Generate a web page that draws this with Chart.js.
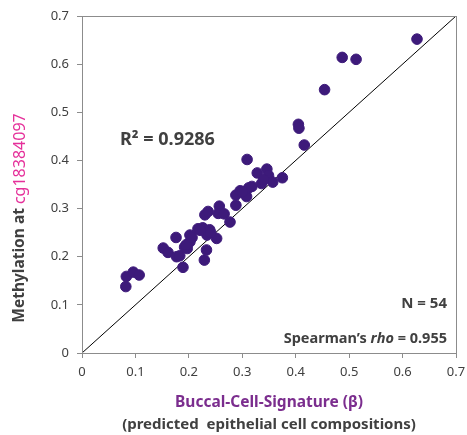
<!DOCTYPE html>
<html>
<head>
<meta charset="utf-8">
<script src="https://cdn.jsdelivr.net/npm/chart.js"></script>
<style>
  html, body { margin: 0; padding: 0; background: #fff; }
  #wrap { width: 467px; height: 435px; }
</style>
</head>
<body>
<div id="wrap"><canvas id="myChart" width="467" height="435"></canvas></div>
<script>
    // Buccal-Cell-Signature (predicted epithelial cell composition), one per sample
    const signature = [
        0.082, 0.083, 0.096, 0.107, 0.152, 0.161, 0.176, 0.177, 0.183, 0.189,
        0.192, 0.197, 0.202, 0.202, 0.217, 0.226, 0.229, 0.233, 0.230, 0.236,
        0.234, 0.239, 0.252, 0.257, 0.255, 0.266, 0.277, 0.288, 0.288, 0.296,
        0.305, 0.308, 0.312, 0.318, 0.328, 0.336, 0.346, 0.349, 0.357, 0.309,
        0.375, 0.405, 0.406, 0.416, 0.454, 0.487, 0.513, 0.627, 0.241, 0.300,
        0.221, 0.195, 0.340, 0.206
    ];
    // Methylation at cg18384097 for the same samples
    const methylation = [
        0.138, 0.159, 0.168, 0.162, 0.218, 0.209, 0.240, 0.200, 0.202, 0.178,
        0.220, 0.217, 0.245, 0.231, 0.258, 0.260, 0.193, 0.214, 0.287, 0.294,
        0.245, 0.256, 0.238, 0.305, 0.290, 0.289, 0.272, 0.307, 0.328, 0.337,
        0.332, 0.325, 0.343, 0.346, 0.374, 0.352, 0.382, 0.369, 0.355, 0.402,
        0.364, 0.475, 0.467, 0.432, 0.547, 0.614, 0.610, 0.652, 0.250, 0.335,
        0.255, 0.225, 0.360, 0.240
    ];
    // identity line y = x
    const identityLine = [0, 0.7];
    const tickValues = [0, 0.1, 0.2, 0.3, 0.4, 0.5, 0.6, 0.7];

    const textColor = '#404040';
    const font = '"Noto Sans", "DejaVu Sans", sans-serif';

    const points = signature.map((x, i) => ({ x: x, y: methylation[i] }));
    const linePts = identityLine.map(v => ({ x: v, y: v }));

    // frame around the plot area plus the free text labels
    const decorations = {
        id: 'decorations',
        afterDraw(chart) {
            const c = chart.ctx;
            const a = chart.chartArea;
            c.save();
            c.strokeStyle = '#8c8c8c';
            c.lineWidth = 1;
            c.strokeRect(Math.round(a.left) + 0.5, Math.round(a.top) + 0.5,
                         Math.round(a.right - a.left), Math.round(a.bottom - a.top));

            c.fillStyle = textColor;
            c.textBaseline = 'middle';

            // R squared
            c.font = 'bold 18px ' + font;
            c.textAlign = 'left';
            c.fillText('R² = 0.9286', 120, 140);

            // N and Spearman
            c.font = 'bold 15px ' + font;
            c.textAlign = 'right';
            c.fillText('N = 54', 447, 304);
            const tail = ' = 0.955';
            const rho = 'rho';
            const head = 'Spearman\u2019s ';
            let x = 447;
            c.font = 'bold 14.5px ' + font;
            c.fillText(tail, x, 339);
            x -= c.measureText(tail).width;
            c.font = 'italic bold 14.5px ' + font;
            c.fillText(rho, x, 339);
            x -= c.measureText(rho).width;
            c.font = 'bold 14.5px ' + font;
            c.fillText(head, x, 339);

            // x axis titles
            const cx = (a.left + a.right) / 2;
            c.textAlign = 'center';
            c.font = 'bold 15.5px ' + font;
            c.fillStyle = '#7b2d8e';
            c.fillText('Buccal-Cell-Signature (\u03b2)', cx, 403);
            c.fillStyle = textColor;
            c.font = 'bold 15px ' + font;
            c.fillText('(predicted  epithelial cell compositions)', cx, 425);

            // y axis title, two colours
            c.translate(20, 218);
            c.rotate(-Math.PI / 2);
            c.font = 'bold 15.5px ' + font;
            const p1 = 'Methylation at ';
            const p2 = 'cg18384097';
            const w1 = c.measureText(p1).width;
            c.font = '16px ' + font;
            const w2 = c.measureText(p2).width;
            let sx = -(w1 + w2) / 2;
            c.textAlign = 'left';
            c.font = 'bold 15.5px ' + font;
            c.fillStyle = textColor;
            c.fillText(p1, sx, 0);
            c.font = '16px ' + font;
            c.fillStyle = '#e5309a';
            c.fillText(p2, sx + w1, 0);
            c.restore();
        }
    };

    const axisCommon = {
        type: 'linear',
        min: 0,
        max: 0.7,
        border: { display: true, color: '#8c8c8c' },
        grid: { drawOnChartArea: false, drawTicks: true, tickLength: 5, color: '#8c8c8c' },
        afterBuildTicks: scale => { scale.ticks = tickValues.map(v => ({ value: v })); },
        ticks: {
            color: textColor,
            font: { family: font, size: 13 },
            callback: v => String(Math.round(v * 10) / 10)
        }
    };

    const ctx = document.getElementById('myChart').getContext('2d');
    const myChart = new Chart(ctx, {
        type: 'scatter',
        data: {
            datasets: [
                {
                    label: 'samples',
                    data: points,
                    backgroundColor: '#3d1a7a',
                    borderColor: '#3d1a7a',
                    pointRadius: 5.3,
                    pointHoverRadius: 5.3,
                    order: 1
                },
                {
                    label: 'y = x',
                    type: 'line',
                    data: linePts,
                    borderColor: '#000',
                    borderWidth: 1,
                    pointRadius: 0,
                    fill: false,
                    order: 2
                }
            ]
        },
        options: {
            responsive: false,
            animation: false,
            events: [],
            layout: { padding: { left: 0, right: 11, top: 16, bottom: 0 } },
            plugins: { legend: { display: false }, tooltip: { enabled: false } },
            scales: {
                x: Object.assign({}, axisCommon, {
                    position: 'bottom',
                    ticks: Object.assign({}, axisCommon.ticks, { padding: 6, maxRotation: 0 }),
                    afterFit: s => { s.height = 82; s.paddingRight = 0; }
                }),
                y: Object.assign({}, axisCommon, {
                    position: 'left',
                    ticks: Object.assign({}, axisCommon.ticks, { padding: 8 }),
                    afterFit: s => { s.width = 82; s.paddingTop = 0; }
                })
            }
        },
        plugins: [decorations]
    });
</script>
</body>
</html>
